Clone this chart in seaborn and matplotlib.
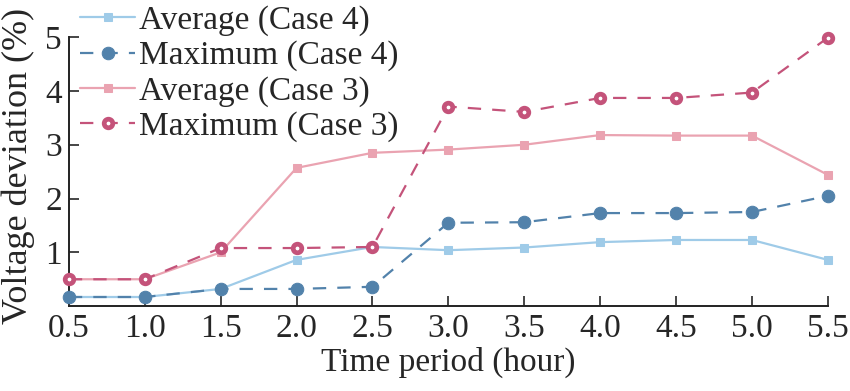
import matplotlib
matplotlib.use("Agg")
import matplotlib.pyplot as plt
import seaborn as sns
import pandas as pd

hours = [0.5, 1.0, 1.5, 2.0, 2.5, 3.0, 3.5, 4.0, 4.5, 5.0, 5.5]
avg_case4 = [0.17, 0.17, 0.32, 0.86, 1.10, 1.04, 1.09, 1.19, 1.23, 1.23, 0.86]
max_case4 = [0.17, 0.17, 0.32, 0.32, 0.36, 1.55, 1.56, 1.73, 1.73, 1.75, 2.05]
avg_case3 = [0.50, 0.50, 1.00, 2.57, 2.85, 2.91, 3.00, 3.18, 3.17, 3.17, 2.44]
max_case3 = [0.50, 0.50, 1.08, 1.08, 1.10, 3.71, 3.61, 3.87, 3.87, 3.97, 4.99]
xticklabels = ["0.5", "1.0", "1.5", "2.0", "2.5", "3.0", "3.5", "4.0", "4.5", "5.0", "5.5"]

sns.set_style("ticks")
plt.rcParams['font.family'] = ['Liberation Serif', 'DejaVu Serif']

fig = plt.figure(figsize=(8.5, 3.91), dpi=100)
ax = fig.add_axes([0.081, 0.217, 0.893, 0.688])

series = [
    ("Average (Case 4)", avg_case4, "#9fcbe8", "-", "s", dict(markersize=5.5)),
    ("Maximum (Case 4)", max_case4, "#5282ab", (0, (6, 5)), "o", dict(markersize=9)),
    ("Average (Case 3)", avg_case3, "#eaa3b1", "-", "s", dict(markersize=5.5)),
    ("Maximum (Case 3)", max_case3, "#c4537a", (0, (6, 5)), "o",
     dict(markersize=6.2, markerfacecolor="white", markeredgewidth=3.4)),
]

for name, vals, col, ls, mk, kw in series:
    df = pd.DataFrame({"x": hours, "y": vals})
    sns.lineplot(data=df, x="x", y="y", ax=ax, color=col, linestyle=ls,
                 marker=mk, markeredgecolor=col, linewidth=1.6, label=name,
                 clip_on=False, zorder=3, **kw)

ax.set_xlim(0.5, 5.5)
ax.set_ylim(0, 5)
ax.set_xticks(hours)
ax.set_xticklabels(xticklabels)
ax.set_yticks([1, 2, 3, 4, 5])
ax.tick_params(direction="in", length=7, width=1.2, labelsize=24, pad=5)
for s in ["top", "right"]:
    ax.spines[s].set_visible(False)
for s in ["left", "bottom"]:
    ax.spines[s].set_linewidth(1.4)
    ax.spines[s].set_color("#222222")
ax.set_xlabel("Time period (hour)", fontsize=24, labelpad=2)
ax.set_ylabel("Voltage deviation (%)", fontsize=26)
ax.yaxis.set_label_coords(-0.045, 0.52)

leg = ax.legend(loc="upper left", bbox_to_anchor=(0.079, 1.02), bbox_transform=fig.transFigure,
                frameon=False, fontsize=24, handlelength=1.65, handletextpad=0.1,
                labelspacing=0.13, borderaxespad=0)

fig.savefig("out.png", dpi=100)
